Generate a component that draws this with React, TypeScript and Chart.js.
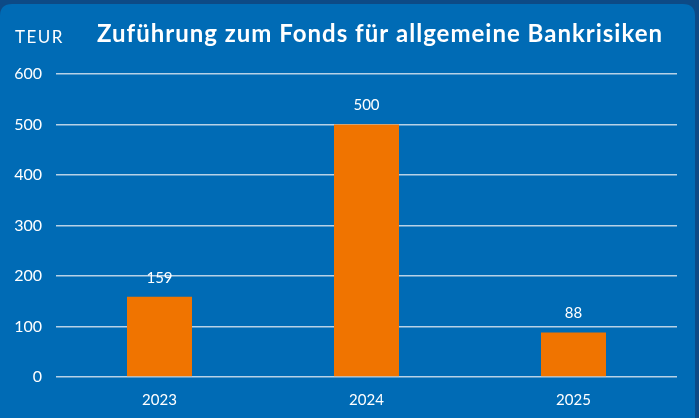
import React, { useEffect, useRef } from "react";
import { Chart, registerables } from "chart.js";

Chart.register(...registerables);

const categories = ["2023", "2024", "2025"];
const values = [159, 500, 88];
const yTicks = [0, 100, 200, 300, 400, 500, 600];
const titleText = "Zuführung zum Fonds für allgemeine Bankrisiken";
const unitText = "TEUR";

const FONT = "Lato, 'DejaVu Sans', sans-serif";

export default function App() {
  const ref = useRef<HTMLCanvasElement | null>(null);

  useEffect(() => {
    document.body.style.margin = "0";
    const canvas = ref.current!;
    const bgPlugin = {
      id: "bg",
      beforeDraw(chart: any) {
        const { ctx, width, height } = chart;
        ctx.save();
        ctx.fillStyle = "#0d4a86";
        ctx.fillRect(0, 0, width, height);
        ctx.fillStyle = "#006bb5";
        const x = 0, y = 4, w = 695, h = height + 20, r = 12;
        ctx.beginPath();
        ctx.moveTo(x + r, y);
        ctx.lineTo(x + w - r, y);
        ctx.quadraticCurveTo(x + w, y, x + w, y + r);
        ctx.lineTo(x + w, y + h);
        ctx.lineTo(x, y + h);
        ctx.lineTo(x, y + r);
        ctx.quadraticCurveTo(x, y, x + r, y);
        ctx.closePath();
        ctx.fill();
        ctx.fillStyle = "#ffffff";
        ctx.textBaseline = "alphabetic";
        ctx.textAlign = "left";
        ctx.font = `17px ${FONT}`;
        (ctx as any).letterSpacing = "1.5px";
        ctx.fillText(unitText, 15, 43);
        ctx.font = `bold 24px ${FONT}`;
        (ctx as any).letterSpacing = "1px";
        ctx.textAlign = "center";
        ctx.fillText(titleText, 380, 42);
        (ctx as any).letterSpacing = "0px";
        ctx.restore();
      },
    };
    const labelPlugin = {
      id: "vals",
      afterDatasetsDraw(chart: any) {
        const { ctx } = chart;
        const meta = chart.getDatasetMeta(0);
        ctx.save();
        ctx.fillStyle = "#ffffff";
        ctx.font = `15px ${FONT}`;
        ctx.textAlign = "center";
        ctx.textBaseline = "middle";
        meta.data.forEach((bar: any, i: number) => {
          ctx.fillText(String(values[i]), bar.x, bar.y - 19);
        });
        ctx.restore();
      },
    };
    const chart = new Chart(canvas, {
      type: "bar",
      data: {
        labels: categories,
        datasets: [
          {
            data: values,
            backgroundColor: "#f07400",
            barPercentage: 0.314,
            categoryPercentage: 1,
          },
        ],
      },
      options: {
        animation: false,
        responsive: false,
        maintainAspectRatio: false,
        layout: { padding: { top: 74, right: 22, left: 0, bottom: 0 } },
        plugins: { legend: { display: false }, tooltip: { enabled: false }, title: { display: false } },
        scales: {
          x: {
            grid: { display: false, drawTicks: false },
            border: { display: false },
            ticks: { color: "#ffffff", font: { family: FONT, size: 15 }, padding: 14 },
            afterFit: (s: any) => {
              s.height = 41;
            },
          },
          y: {
            min: 0,
            max: 600,
            afterBuildTicks: (s: any) => {
              s.ticks = yTicks.map((v) => ({ value: v }));
            },
            grid: { color: "rgba(215,228,240,0.85)", lineWidth: 1.5, drawTicks: false },
            border: { display: false },
            ticks: { color: "#ffffff", font: { family: FONT, size: 16 }, padding: 14 },
            afterFit: (s: any) => {
              s.width = 56;
            },
          },
        },
      },
      plugins: [bgPlugin, labelPlugin],
    });
    return () => chart.destroy();
  }, []);

  return (
    <div style={{ position: "absolute", left: 0, top: 0, width: 699, height: 418 }}>
      <canvas ref={ref} width={699} height={418} style={{ width: 699, height: 418 }} />
    </div>
  );
}
